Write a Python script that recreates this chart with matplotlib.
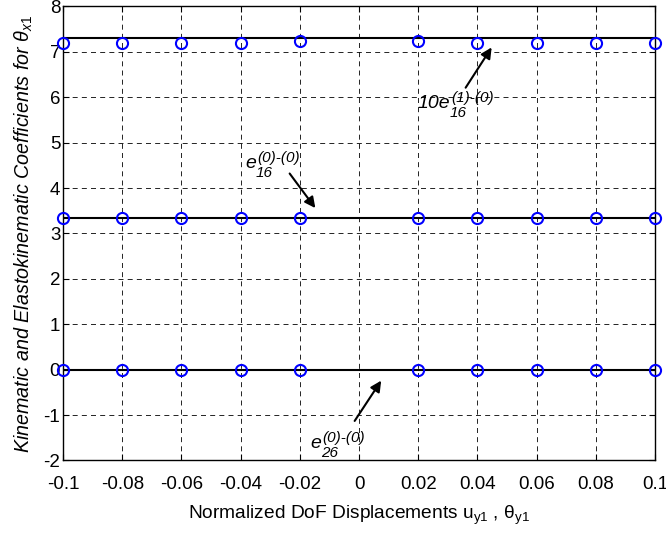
import matplotlib.pyplot as plt

plt.rcParams['font.family'] = ['Liberation Sans', 'DejaVu Sans']
plt.rcParams['mathtext.fontset'] = 'custom'
plt.rcParams['mathtext.rm'] = 'Liberation Sans'
plt.rcParams['mathtext.it'] = 'Liberation Sans:italic'
plt.rcParams['axes.unicode_minus'] = False

# data
u_pts = [-0.1, -0.08, -0.06, -0.04, -0.02, 0.02, 0.04, 0.06, 0.08, 0.1]
e10_16_pts = [7.19, 7.19, 7.19, 7.19, 7.25, 7.25, 7.19, 7.19, 7.19, 7.19]
e16_pts = [3.33] * 10
e26_pts = [0.0] * 10

u_line = [-0.1, 0.1]
e10_16_line = [7.31, 7.31]
e16_line = [3.33, 3.33]
e26_line = [0.0, 0.0]

xticks = [-0.1, -0.08, -0.06, -0.04, -0.02, 0, 0.02, 0.04, 0.06, 0.08, 0.1]
xticklabels = ['-0.1', '-0.08', '-0.06', '-0.04', '-0.02', '0',
               '0.02', '0.04', '0.06', '0.08', '0.1']
yticks = list(range(-2, 9))

fig = plt.figure(figsize=(6.66, 5.36), dpi=100)
ax = fig.add_axes([0.0946, 0.1409, 0.889, 0.8470])

for yl in (e10_16_line, e16_line, e26_line):
    ax.plot(u_line, yl, color='black', lw=1.5, zorder=3)
for yp in (e10_16_pts, e16_pts, e26_pts):
    ax.plot(u_pts, yp, 'o', mfc='none', mec='blue', ms=8, mew=1.5,
            clip_on=False, zorder=4)

ax.set_xlim(-0.1, 0.1)
ax.set_ylim(-2, 8)
ax.set_xticks(xticks)
ax.set_xticklabels(xticklabels)
ax.set_yticks(yticks)
ax.tick_params(direction='in', labelsize=13.5, length=4, top=True, right=True)
ax.tick_params(axis='x', pad=11)
ax.tick_params(axis='y', pad=2)
ax.grid(True, color='black', linestyle=(0, (6, 5)), lw=0.6)
for s in ax.spines.values():
    s.set_linewidth(1.0)

ax.set_xlabel(r'Normalized DoF Displacements u$_{\mathrm{y1}}$ , $\mathrm{\theta}_{\mathrm{y1}}$',
              fontsize=13.8, labelpad=8)
ax.set_ylabel(r'$\mathit{Kinematic\ and\ Elastokinematic\ Coefficients\ for\ \theta_{x1}}$',
              fontsize=14.2, labelpad=6)


def label(x, y, base, sup, sub):
    t = ax.text(x, y, base, fontsize=14, style='italic', ha='left', va='baseline')
    ax.annotate(sup, xy=(1, 0), xycoords=t, xytext=(1, 10.5), textcoords='offset points',
                fontsize=11, style='italic', ha='left', va='center')
    ax.annotate(sub, xy=(1, 0), xycoords=t, xytext=(0, -0.5), textcoords='offset points',
                fontsize=11, style='italic', ha='left', va='center')


arrow = dict(arrowstyle='-|>', color='black', lw=1.5, mutation_scale=16)
ax.annotate('', xy=(0.0453, 7.15), xytext=(0.0355, 6.16), arrowprops=arrow)
label(0.0196, 5.76, '10e', '(1)-(0)', '16')

ax.annotate('', xy=(-0.0142, 3.51), xytext=(-0.024, 4.37), arrowprops=arrow)
label(-0.0385, 4.44, 'e', '(0)-(0)', '16')

ax.annotate('', xy=(0.008, -0.19), xytext=(-0.002, -1.18), arrowprops=arrow)
label(-0.0166, -1.73, 'e', '(0)-(0)', '26')

fig.savefig('out.png', dpi=100)
